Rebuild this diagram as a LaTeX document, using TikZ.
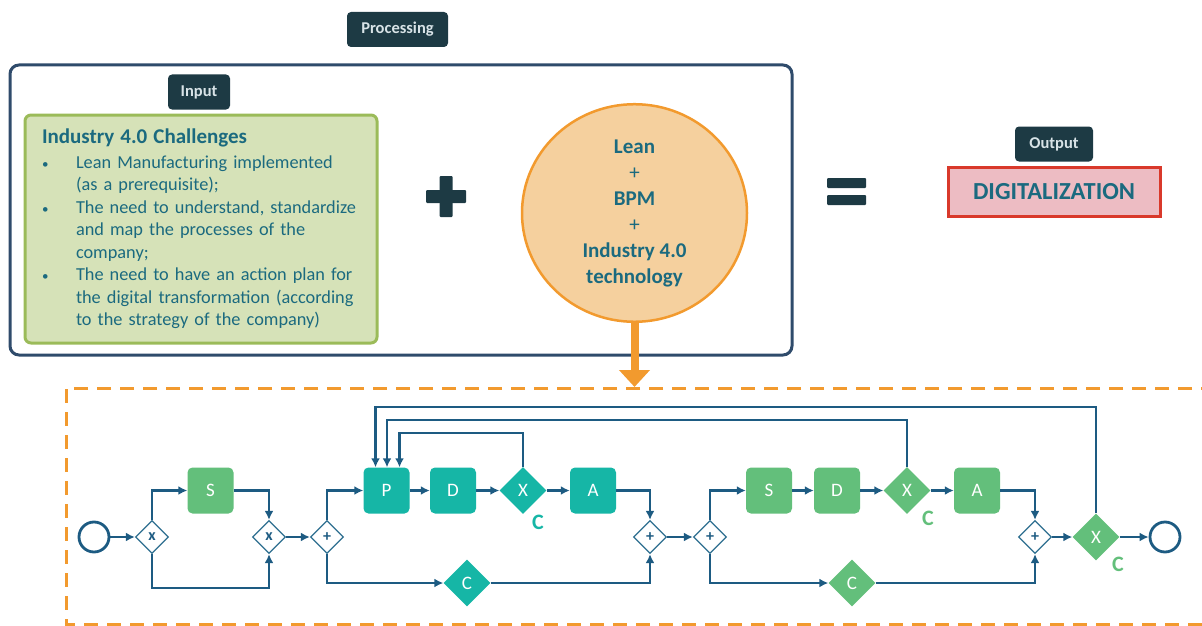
\documentclass[tikz,border=0pt]{standalone}
\usepackage{fontspec}
\setmainfont{Carlito}
\usepackage{tikz}
\usetikzlibrary{arrows.meta,calc,positioning,shapes.geometric}
\definecolor{TagDark}{HTML}{1D3A44}
\definecolor{TagText}{HTML}{D8E3E7}
\definecolor{FrameNavy}{HTML}{2F4B6B}
\definecolor{ChalFill}{HTML}{D6E2B8}
\definecolor{ChalLine}{HTML}{9BBB59}
\definecolor{InkTeal}{HTML}{1B6A7F}
\definecolor{MixFill}{HTML}{F5D09E}
\definecolor{MixLine}{HTML}{F29A2E}
\definecolor{DigFill}{HTML}{EDBCC3}
\definecolor{DigLine}{HTML}{D9392B}
\definecolor{FlowBlue}{HTML}{1D5B82}
\definecolor{GateLine}{HTML}{2E6F90}
\definecolor{TaskTeal}{HTML}{16B6A6}
\definecolor{TaskGreen}{HTML}{63BF7B}

\begin{document}
\begin{tikzpicture}[x=1pt,y=-1pt,>=Latex,
  tag/.style={fill=TagDark,rounded corners=4pt,text=TagText,
    font=\bfseries\fontsize{16.5}{18}\selectfont,minimum height=35pt,inner xsep=2pt},
  task/.style={rounded corners=5pt,minimum width=46pt,minimum height=46pt,
    inner sep=0pt,text=white,font=\fontsize{19}{19}\selectfont},
  gate/.style={diamond,draw=GateLine,fill=white,line width=1.3pt,minimum width=33pt,
    minimum height=33pt,inner sep=0pt,text=FlowBlue,font=\bfseries\fontsize{16}{16}\selectfont},
  cgate/.style={diamond,minimum width=47pt,minimum height=47pt,inner sep=0pt,
    text=white,font=\fontsize{19}{19}\selectfont},
  event/.style={circle,draw=FlowBlue,line width=2.8pt,minimum size=30pt,inner sep=0pt},
  flow/.style={FlowBlue,line width=2.8pt,-{Latex[length=9pt,width=9pt]}},
  clab/.style={font=\bfseries\fontsize{22}{22}\selectfont}]
  \useasboundingbox (0,0) rectangle (1202,626);

  % upper part
  \node[draw=FrameNavy,line width=3pt,rounded corners=9pt,minimum width=782pt,
    minimum height=290pt] (frame) at (401,210) {};
  \node[tag,minimum width=101pt] (proc) at (397.5,29.5) {Processing};
  \node[tag,minimum width=62pt] (inp) at (199,92) {Input};
  \node[draw=ChalLine,fill=ChalFill,line width=3pt,rounded corners=6pt,
    minimum width=352pt,minimum height=228pt,text width=318pt,inner sep=0pt,
    align=left,text=InkTeal,font=\fontsize{18.3}{22.5}\selectfont] (chal) at (201,229)
    {{\bfseries\fontsize{21}{22.5}\selectfont Industry 4.0 Challenges}\\[2pt]
     \makebox[34pt][l]{\fontsize{13}{13}\selectfont\textbullet}Lean Manufacturing implemented\\
     \hspace*{34pt}(as a prerequisite);\\
     \makebox[34pt][l]{\fontsize{13}{13}\selectfont\textbullet}The need to understand, standardize\\
     \hspace*{34pt}and map the processes of the\\
     \hspace*{34pt}company;\\
     \makebox[34pt][l]{\fontsize{13}{13}\selectfont\textbullet}The need to have an action plan for\\
     \hspace*{34pt}the digital transformation (according\\
     \hspace*{34pt}to the strategy of the company)};
  \fill[TagDark,rounded corners=1pt] (426,190) rectangle (466,203);
  \fill[TagDark,rounded corners=1pt] (439.5,176) rectangle (452.5,217);
  \node[ellipse,draw=MixLine,fill=MixFill,line width=2.5pt,minimum width=225pt,
    minimum height=208pt,align=center,text=InkTeal,
    font=\bfseries\fontsize{21}{26}\selectfont] (mix) at (634.5,213)
    {Lean\\{\mdseries +}\\BPM\\{\mdseries +}\\Industry 4.0\\technology};
  \coordinate (drop) at (634.5,387);
  \draw[MixLine,line width=8pt,-{Triangle[width=30pt,length=17pt]}] (mix.south) -- (drop);
  \fill[TagDark,rounded corners=1pt] (827,178) rectangle (866,188);
  \fill[TagDark,rounded corners=1pt] (827,195) rectangle (866,205);
  \node[tag,minimum width=78pt] (outp) at (1054,144) {Output};
  \node[draw=DigLine,fill=DigFill,line width=3pt,minimum width=212pt,minimum height=49pt,
    text=InkTeal,font=\bfseries\fontsize{24.5}{24.5}\selectfont] (dig) at (1054,191.5)
    {DIGITALIZATION};

  % process area
  \draw[MixLine,line width=3pt,dash pattern=on 14pt off 9pt] (1215,388) -- (66,388)
    -- (66,624) -- (1215,624);

  \node[event] (start) at (94,537) {};
  \node[gate] (ga) at (152,537) {x};
  \node[task,fill=TaskGreen] (sa) at (210.5,490.5) {S};
  \node[gate] (gb) at (269,537) {x};
  \node[gate] (gc) at (327,537) {+};
  \node[task,fill=TaskTeal] (p) at (386.5,490.5) {P};
  \node[task,fill=TaskTeal] (da) at (453,490.5) {D};
  \node[cgate,fill=TaskTeal] (xa) at (523,490.5) {X};
  \node[task,fill=TaskTeal] (aa) at (593,490.5) {A};
  \node[cgate,fill=TaskTeal] (ca) at (467,583) {C};
  \node[gate] (gd) at (650,537) {+};
  \node[gate] (ge) at (710,537) {+};
  \node[task,fill=TaskGreen] (sb) at (769,490.5) {S};
  \node[task,fill=TaskGreen] (db) at (837,490.5) {D};
  \node[cgate,fill=TaskGreen] (xb) at (907,490.5) {X};
  \node[task,fill=TaskGreen] (ab) at (977,490.5) {A};
  \node[cgate,fill=TaskGreen] (cb) at (852,583) {C};
  \node[gate] (gf) at (1035,537) {+};
  \node[cgate,fill=TaskGreen] (xc) at (1096,537) {X};
  \node[event] (stop) at (1165,537) {};
  \node[clab,text=TaskTeal] (la) at (538,522) {C};
  \node[clab,text=TaskGreen] (lb) at (928,518) {C};
  \node[clab,text=TaskGreen] (lc) at (1118,564) {C};

  \coordinate (pin1) at ($(p.north)+(-11,0)$);
  \coordinate (pin2) at ($(p.north)+(0.5,0)$);
  \coordinate (pin3) at ($(p.north)+(13,0)$);

  \draw[flow] (start) -- (ga);
  \draw[flow] (ga.north) |- (sa);
  \draw[flow] (sa) -| (gb.north);
  \draw[flow] (ga.south) -- (ga.south |- 0,588) -| (gb.south);
  \draw[flow] (gb) -- (gc);
  \draw[flow] (gc.north) |- (p);
  \draw[flow] (gc.south) |- (ca);
  \draw[flow] (p) -- (da);
  \draw[flow] (da) -- (xa);
  \draw[flow] (xa) -- (aa);
  \draw[flow] (aa) -| (gd.north);
  \draw[flow] (ca) -| (gd.south);
  \draw[flow] (gd) -- (ge);
  \draw[flow] (ge.north) |- (sb);
  \draw[flow] (ge.south) |- (cb);
  \draw[flow] (sb) -- (db);
  \draw[flow] (db) -- (xb);
  \draw[flow] (xb) -- (ab);
  \draw[flow] (ab) -| (gf.north);
  \draw[flow] (cb) -| (gf.south);
  \draw[flow] (gf) -- (xc);
  \draw[flow] (xc) -- (stop);
  % loops back to P
  \draw[flow] (xa.north) -- (xa.north |- 0,433) -| (pin3);
  \draw[flow] (xb.north) -- (xb.north |- 0,420) -| (pin2);
  \draw[flow] (xc.north) -- (xc.north |- 0,407) -| (pin1);
\end{tikzpicture}
\end{document}
